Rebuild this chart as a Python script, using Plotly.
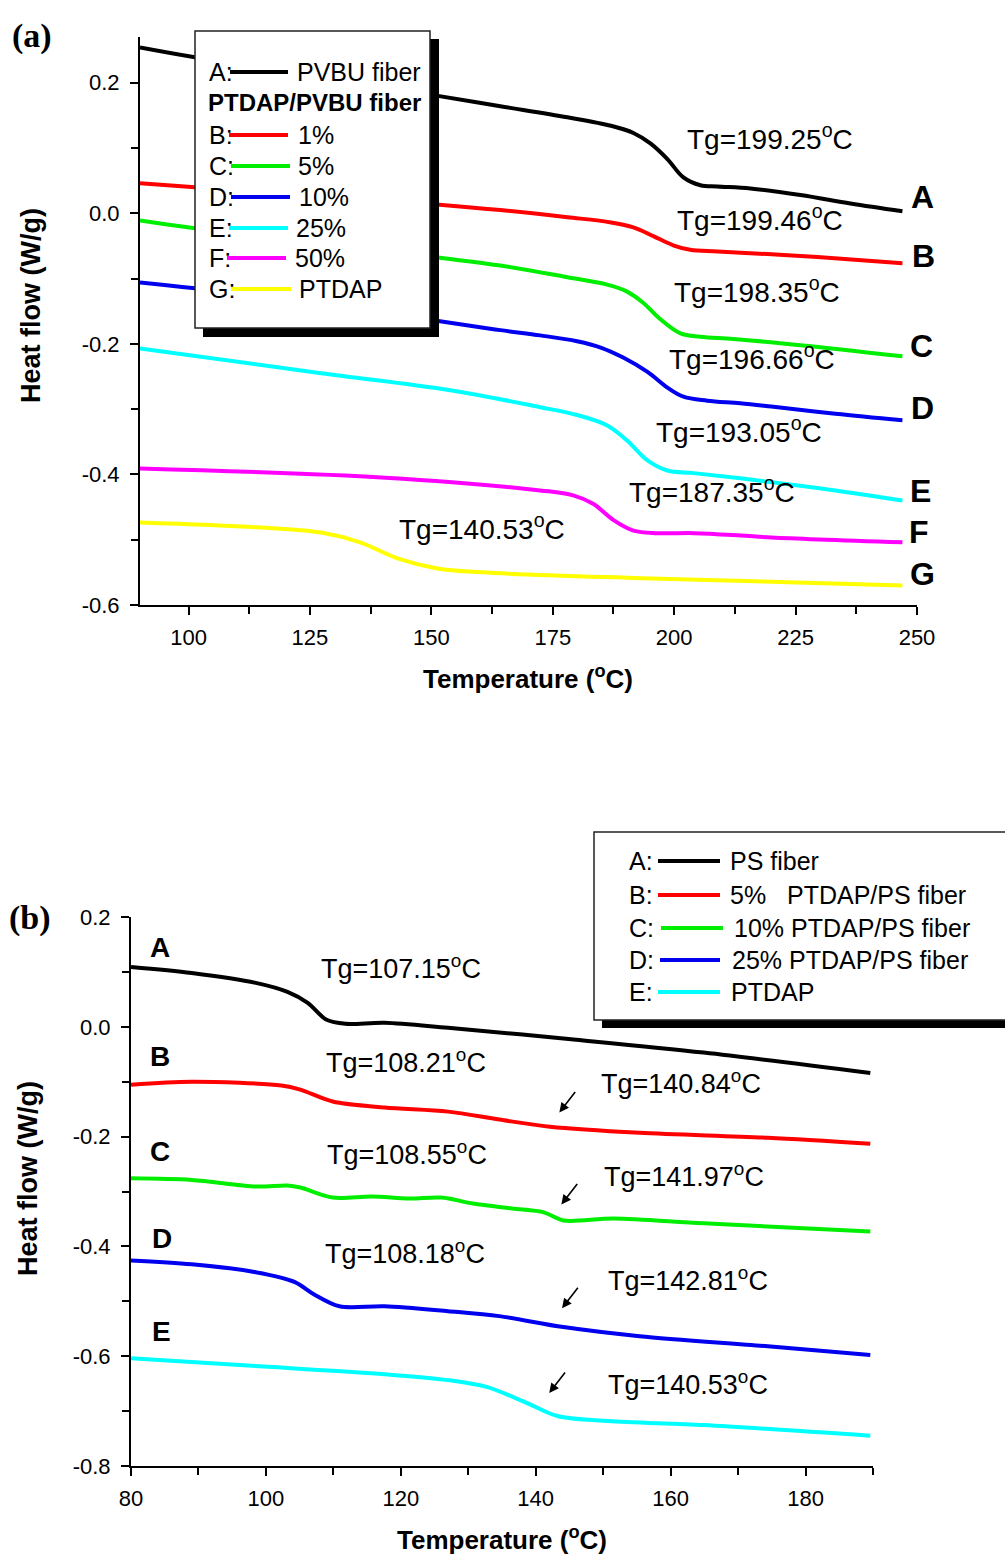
import plotly.graph_objects as go

W, H = 1005, 1555

# ---------------- Panel (a) data: PVBU series ----------------
a_names = ["PVBU fiber", "1%", "5%", "10%", "25%", "50%", "PTDAP"]
a_keys = ["A", "B", "C", "D", "E", "F", "G"]
a_colors = ["#000000", "#ff0000", "#00ee00", "#0000ee", "#00ffff", "#ff00ff", "#ffff00"]

aA_x = [90, 101.3, 150.4, 164.2, 178.0, 187.0, 191.6, 195.1, 198.6, 201.9, 205.4, 208.9, 215.7, 226.0, 236.3, 247.0]
aA_y = [0.254, 0.239, 0.181, 0.164, 0.147, 0.134, 0.123, 0.107, 0.083, 0.055, 0.043, 0.041, 0.038, 0.028, 0.015, 0.003]

aB_x = [90, 101.3, 150.4, 164.2, 178.0, 187.0, 191.6, 195.7, 199.8, 203.3, 208.9, 219.2, 229.5, 247.0]
aB_y = [0.046, 0.040, 0.014, 0.005, -0.006, -0.014, -0.0215, -0.035, -0.049, -0.0560, -0.0585, -0.0625, -0.067, -0.0766]

aC_x = [90, 101.3, 150.4, 164.2, 178.0, 186.0, 190.3, 193.6, 197.1, 201.3, 205.4, 212.2, 226.0, 247.0]
aC_y = [-0.011, -0.023, -0.067, -0.080, -0.098, -0.109, -0.120, -0.137, -0.162, -0.184, -0.189, -0.1925, -0.202, -0.219]

aD_x = [90, 101.3, 150.4, 164.2, 172.4, 180.0, 185.0, 189.5, 194.5, 198.6, 201.9, 206.8, 213.6, 220.0, 233.2, 247.0]
aD_y = [-0.106, -0.115, -0.164, -0.179, -0.187, -0.196, -0.206, -0.221, -0.243, -0.267, -0.281, -0.287, -0.291, -0.296, -0.307, -0.317]

aE_x = [90, 127.3, 153.9, 172.4, 180.0, 186.2, 190.3, 194.5, 198.6, 204.0, 213.6, 233.2, 247.0]
aE_y = [-0.207, -0.245, -0.271, -0.297, -0.309, -0.325, -0.348, -0.3785, -0.394, -0.398, -0.406, -0.4245, -0.440]

aF_x = [90, 140.5, 172.4, 179.2, 183.3, 187.5, 191.6, 196.5, 204.2, 213.6, 220.0, 247.0]
aF_y = [-0.391, -0.405, -0.4245, -0.432, -0.445, -0.470, -0.486, -0.490, -0.490, -0.4935, -0.4966, -0.504]

aG_x = [90, 114.1, 127.3, 135.3, 143.2, 151.2, 160.5, 193.4, 247.0]
aG_y = [-0.4736, -0.481, -0.489, -0.504, -0.529, -0.544, -0.550, -0.559, -0.570]

a_tg = ["Tg=199.25<sup>o</sup>C", "Tg=199.46<sup>o</sup>C", "Tg=198.35<sup>o</sup>C",
        "Tg=196.66<sup>o</sup>C", "Tg=193.05<sup>o</sup>C", "Tg=187.35<sup>o</sup>C",
        "Tg=140.53<sup>o</sup>C"]

a_xticks = [100, 125, 150, 175, 200, 225, 250]
a_xticktext = ["100", "125", "150", "175", "200", "225", "250"]
a_xminor = [112.5, 137.5, 162.5, 187.5, 212.5, 237.5]
a_yticks = [-0.6, -0.4, -0.2, 0.0, 0.2]
a_yticktext = ["-0.6", "-0.4", "-0.2", "0.0", "0.2"]
a_yminor = [-0.5, -0.3, -0.1, 0.1]

# ---------------- Panel (b) data: PS series ----------------
b_names = ["PS fiber", "5%\u00a0\u00a0\u00a0PTDAP/PS fiber", "10% PTDAP/PS fiber", "25% PTDAP/PS fiber", "PTDAP"]
b_keys = ["A", "B", "C", "D", "E"]
b_colors = ["#000000", "#ff0000", "#00ee00", "#0000ee", "#00ffff"]

bA_x = [80, 89.0, 98.5, 103.2, 106.2, 109.0, 111.8, 117.6, 127.0, 146.0, 164.9, 189.6]
bA_y = [0.109, 0.098, 0.080, 0.0636, 0.0436, 0.0127, 0.0055, 0.0073, -0.0018, -0.0236, -0.047, -0.084]

bB_x = [80, 89.0, 102.3, 105.1, 109.9, 117.6, 127.0, 134.6, 142.1, 155.4, 174.4, 189.6]
bB_y = [-0.1055, -0.100, -0.107, -0.1145, -0.136, -0.147, -0.1545, -0.169, -0.182, -0.193, -0.202, -0.213]

bC_x = [80, 89.0, 98.5, 103.2, 105.1, 109.9, 115.7, 121.3, 126.0, 130.7, 136.5, 141.2, 144.1, 151.6, 164.9, 189.6]
bC_y = [-0.276, -0.279, -0.291, -0.289, -0.2927, -0.311, -0.309, -0.3127, -0.311, -0.322, -0.331, -0.338, -0.3527, -0.349, -0.358, -0.3727]

bD_x = [80, 89.0, 98.5, 104.3, 107.1, 110.9, 117.6, 127.0, 134.6, 144.1, 155.4, 174.4, 189.6]
bD_y = [-0.4255, -0.4327, -0.447, -0.465, -0.487, -0.509, -0.509, -0.518, -0.527, -0.547, -0.5636, -0.582, -0.598]

bE_x = [80, 98.5, 117.6, 127.0, 132.7, 138.4, 143.2, 150.7, 164.9, 189.6]
bE_y = [-0.6036, -0.618, -0.6327, -0.6436, -0.656, -0.6836, -0.709, -0.718, -0.7255, -0.745]

b_tg_low = ["Tg=107.15<sup>o</sup>C", "Tg=108.21<sup>o</sup>C", "Tg=108.55<sup>o</sup>C", "Tg=108.18<sup>o</sup>C"]
b_tg_high = ["Tg=140.84<sup>o</sup>C", "Tg=141.97<sup>o</sup>C", "Tg=142.81<sup>o</sup>C", "Tg=140.53<sup>o</sup>C"]
b_arrow_x = [143.5, 143.8, 143.9, 142.0]
b_arrow_y = [-0.156, -0.3236, -0.5127, -0.667]

b_xticks = [80, 100, 120, 140, 160, 180]
b_xticktext = ["80", "100", "120", "140", "160", "180"]
b_xminor = [90, 110, 130, 150, 170, 190]
b_yticks = [-0.8, -0.6, -0.4, -0.2, 0.0, 0.2]
b_yticktext = ["-0.8", "-0.6", "-0.4", "-0.2", "0.0", "0.2"]
b_yminor = [-0.7, -0.5, -0.3, -0.1, 0.1]

a_series = [(aA_x, aA_y), (aB_x, aB_y), (aC_x, aC_y), (aD_x, aD_y), (aE_x, aE_y), (aF_x, aF_y), (aG_x, aG_y)]
b_series = [(bA_x, bA_y), (bB_x, bB_y), (bC_x, bC_y), (bD_x, bD_y), (bE_x, bE_y)]

SANS = "Liberation Sans, Arial, sans-serif"
SERIF = "Liberation Serif, Times New Roman, serif"


def px(x):
    return x / W


def py(y):
    return 1 - y / H


fig = go.Figure()
for (xs, ys), c, n in zip(a_series, a_colors, a_names):
    fig.add_trace(go.Scatter(x=xs, y=ys, mode="lines", name=n, xaxis="x", yaxis="y",
                             line=dict(color=c, width=4, shape="spline", smoothing=1.0)))
for (xs, ys), c, n in zip(b_series, b_colors, b_names):
    fig.add_trace(go.Scatter(x=xs, y=ys, mode="lines", name=n, xaxis="x2", yaxis="y2",
                             line=dict(color=c, width=4, shape="spline", smoothing=0.9)))


def axis_style(domain, rng, tv, tt, minor, anchor):
    return dict(domain=domain, range=rng, anchor=anchor, showline=True, linecolor="black",
                linewidth=2, ticks="outside", ticklen=8, tickwidth=2, tickcolor="black",
                tickvals=tv, ticktext=tt, showgrid=False, zeroline=False, automargin=False,
                tickfont=dict(family=SANS, size=22, color="black"), ticklabelstandoff=4,
                minor=dict(tickvals=minor, ticks="outside", ticklen=7, tickwidth=2,
                           tickcolor="black", showgrid=False))


xa = axis_style([px(140), px(917)], [90, 250], a_xticks, a_xticktext, a_xminor, "y")
ya = axis_style([py(605), py(37)], [-0.6, 0.27], a_yticks, a_yticktext, a_yminor, "x")
ya["ticklabelstandoff"] = 6
xb = axis_style([px(131), px(873)], [80, 190], b_xticks, b_xticktext, b_xminor, "y2")
yb = axis_style([py(1466), py(917)], [-0.8, 0.2], b_yticks, b_yticktext, b_yminor, "x2")
yb["ticklabelstandoff"] = 6

ann = []
shapes = []


def text(x, y, s, size, bold=False, xanchor="center", family=SANS, angle=0):
    ann.append(dict(x=px(x), y=py(y), xref="paper", yref="paper", text=(f"<b>{s}</b>" if bold else s),
                    showarrow=False, xanchor=xanchor, yanchor="middle", textangle=angle,
                    font=dict(family=family, size=size, color="black")))


# Panel labels and axis titles
text(32, 36, "(a)", 34, bold=True, family=SERIF)
text(30, 918, "(b)", 34, bold=True, family=SERIF)
text(528, 678, "Temperature (<sup>o</sup>C)", 26, bold=True)
text(502, 1538, "Temperature (<sup>o</sup>C)", 26, bold=True)
text(31, 306, "Heat flow (W/g)", 27, bold=True, angle=-90)
text(28, 1179, "Heat flow (W/g)", 27, bold=True, angle=-90)

# Panel (a) Tg labels and curve letters
a_tg_pos = [(770, 137), (760, 218), (757, 290), (752, 357), (739, 430), (712, 490), (482, 527)]
for s, (x, y) in zip(a_tg, a_tg_pos):
    text(x, y, s, 28)
a_letter_pos = [(922, 197), (923, 256), (921, 346), (922, 408), (920, 491), (919, 532), (922, 574)]
for k, (x, y) in zip(a_keys, a_letter_pos):
    text(x, y, k, 32, bold=True)

# Panel (b) Tg labels and letters
b_low_pos = [(401, 967), (406, 1061), (407, 1153), (405, 1252)]
for s, (x, y) in zip(b_tg_low, b_low_pos):
    text(x, y, s, 27)
b_high_pos = [(681, 1082), (684, 1175), (688, 1279), (688, 1383)]
for s, (x, y) in zip(b_tg_high, b_high_pos):
    text(x, y, s, 27)
b_letter_pos = [(160, 947), (160, 1056), (160, 1151), (162, 1238), (161, 1331)]
for k, (x, y) in zip(b_keys, b_letter_pos):
    text(x, y, k, 28, bold=True)

for x, y in zip(b_arrow_x, b_arrow_y):
    ann.append(dict(x=x, y=y, xref="x2", yref="y2", text="", showarrow=True, arrowhead=2,
                    arrowsize=1.2, arrowwidth=1.6, arrowcolor="black", ax=17, ay=-22))

# Legend (a)
shapes.append(dict(type="rect", xref="paper", yref="paper", x0=px(203), x1=px(439), y0=py(39), y1=py(337),
                   fillcolor="black", line=dict(width=0), layer="above"))
shapes.append(dict(type="rect", xref="paper", yref="paper", x0=px(195), x1=px(430), y0=py(31), y1=py(328),
                   fillcolor="white", line=dict(color="#222222", width=1.5), layer="above"))
a_leg_rows = [72, 135, 166, 197, 228, 258, 289]
a_leg_line = [(230, 288), (229, 288), (231, 290), (231, 290), (229, 288), (227, 286), (231, 291)]
a_leg_text_x = [295, 296, 296, 297, 294, 293, 297]
for k, n, c, yy, (l0, l1), tx in zip(a_keys, a_names, a_colors, a_leg_rows, a_leg_line, a_leg_text_x):
    text(207, yy, k + ":", 25, xanchor="left")
    shapes.append(dict(type="line", xref="paper", yref="paper", x0=px(l0), x1=px(l1), y0=py(yy), y1=py(yy),
                       line=dict(color=c, width=4), layer="above"))
    text(tx, yy, n, 25, xanchor="left")
text(206, 103, "PTDAP/PVBU fiber", 24, bold=True, xanchor="left")

# Legend (b)
shapes.append(dict(type="rect", xref="paper", yref="paper", x0=px(602), x1=px(1020), y0=py(840), y1=py(1028),
                   fillcolor="black", line=dict(width=0), layer="above"))
shapes.append(dict(type="rect", xref="paper", yref="paper", x0=px(594), x1=px(1015), y0=py(832), y1=py(1020),
                   fillcolor="white", line=dict(color="#222222", width=1.5), layer="above"))
b_leg_rows = [861, 895, 928, 960, 992]
b_leg_line = [(658, 720), (658, 720), (661, 723), (660, 720), (658, 720)]
b_leg_text_x = [728, 728, 732, 730, 729]
for k, n, c, yy, (l0, l1), tx in zip(b_keys, b_names, b_colors, b_leg_rows, b_leg_line, b_leg_text_x):
    text(627, yy, k + ":", 25, xanchor="left")
    shapes.append(dict(type="line", xref="paper", yref="paper", x0=px(l0), x1=px(l1), y0=py(yy), y1=py(yy),
                       line=dict(color=c, width=4), layer="above"))
    text(tx, yy, n, 25, xanchor="left")

fig.update_layout(width=W, height=H, autosize=False, margin=dict(l=0, r=0, t=0, b=0),
                  paper_bgcolor="white", plot_bgcolor="white", showlegend=False,
                  xaxis=xa, yaxis=ya, xaxis2=xb, yaxis2=yb, annotations=ann, shapes=shapes)

fig.write_html("out.html", config={"displayModeBar": False},
               post_script="document.body.style.margin='0';document.body.style.padding='0';"
                           "document.documentElement.style.overflow='hidden';")
